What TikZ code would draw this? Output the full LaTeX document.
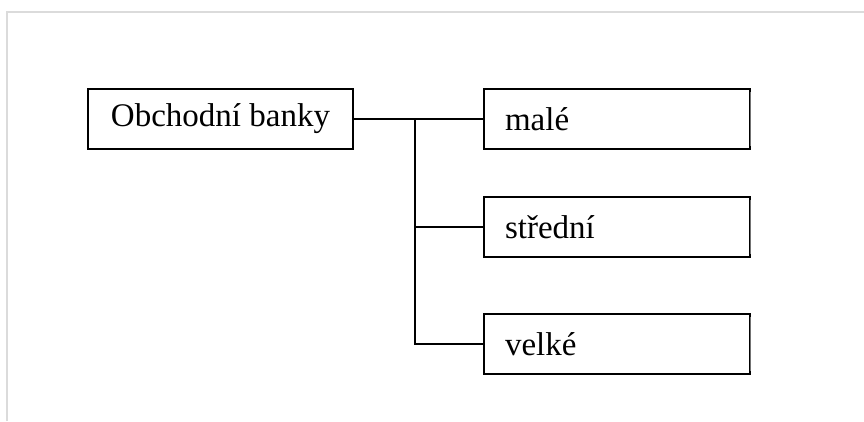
\documentclass[tikz,border=0pt]{standalone}
\usepackage{fontspec}
\setmainfont{Liberation Serif}
\begin{document}
\begin{tikzpicture}[x=1pt,y=-1pt,
  frameline/.style={draw=black!14,line width=1.5pt},
  mainbox/.style={draw=black,line width=1.1pt,minimum width=265pt,minimum height=60pt,inner sep=0pt,font=\fontsize{33}{36}\selectfont},
  subbox/.style={draw=black,line width=1.1pt,text width=224pt,inner xsep=21pt,inner ysep=0pt,align=left,minimum height=60pt,font=\fontsize{33}{36}\selectfont},
  edgeline/.style={draw=black!55,line width=0.9pt},
  conn/.style={draw=black,line width=1.1pt}]
\useasboundingbox (0,0) rectangle (864,421);
\draw[frameline] (7,421) -- (7,12) -- (864,12);
\node[mainbox] (main) at (220.5,119) {Obchodní banky};
\node[subbox] (m) at (617,119) {malé};
\node[subbox] (s) at (617,227) {střední};
\node[subbox] (v) at (617,344) {velké};
\foreach \b in {m,s,v}{
  \draw[white,line width=1.3pt] ([yshift=-4pt]\b.north east) -- ([yshift=4pt]\b.south east);
  \draw[edgeline] ([yshift=-4pt]\b.north east) -- ([yshift=4pt]\b.south east);
}
\coordinate (j) at (415,119);
\draw[conn] (main.east) -- (m.west);
\draw[conn] (j) -- (j |- v.west) -- (v.west);
\draw[conn] (j |- s.west) -- (s.west);
\end{tikzpicture}
\end{document}
